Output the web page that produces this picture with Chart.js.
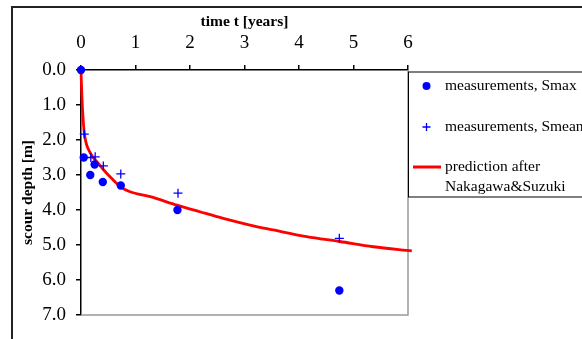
<!DOCTYPE html>
<html>
<head>
<meta charset="utf-8">
<script src="https://cdn.jsdelivr.net/npm/chart.js@4"></script>
<style>
  html, body { margin: 0; padding: 0; background: #fff; }
  #wrap { width: 582px; height: 339px; }
</style>
</head>
<body>
<div id="wrap"><canvas id="scourChart" width="582" height="339"></canvas></div>
<script>
// --- Data ---
const smaxTime = [0, 0.05, 0.17, 0.25, 0.40, 0.73, 1.77, 4.74];
const smaxDepth = [0.0, 2.5, 3.0, 2.7, 3.2, 3.3, 4.0, 6.3];

const smeanTime = [0.06, 0.18, 0.26, 0.41, 0.73, 1.78, 4.74];
const smeanDepth = [1.83, 2.5, 2.48, 2.74, 2.97, 3.52, 4.81];

const predTime = [0, 0.015, 0.04, 0.07, 0.17, 0.29, 0.47, 0.59, 0.72, 0.90, 1.27, 1.76, 2.18, 2.61, 3.10, 3.53, 4.14, 4.75, 5.36, 6.07];
const predDepth = [0, 0.7, 1.43, 1.9, 2.37, 2.62, 2.95, 3.14, 3.33, 3.48, 3.62, 3.86, 4.05, 4.24, 4.43, 4.57, 4.76, 4.90, 5.05, 5.17];

const xTicks = [0, 1, 2, 3, 4, 5, 6];
const yTicks = [0, 1, 2, 3, 4, 5, 6, 7];

const seriesLabels = ['measurements, Smax', 'measurements, Smean', 'prediction after\nNakagawa&Suzuki'];

const SERIF = "'Liberation Serif', 'Times New Roman', serif";
const BLUE = '#0000ff';
const RED = '#ff0000';

function toPoints(xs, ys) {
    return xs.map((x, i) => ({ x: x, y: ys[i] }));
}

// --- Frame, plot border and legend ---
const framePlugin = {
    id: 'frame',
    beforeDraw(chart) {
        const ctx = chart.ctx;
        ctx.save();
        ctx.fillStyle = '#fff';
        ctx.fillRect(0, 0, chart.width, chart.height);
        ctx.strokeStyle = '#222';
        ctx.lineWidth = 2;
        ctx.strokeRect(12, 7, chart.width + 20, chart.height + 20);
        ctx.restore();
    },
    beforeDatasetsDraw(chart) {
        const a = chart.chartArea;
        const ctx = chart.ctx;
        ctx.save();
        ctx.strokeStyle = '#999';
        ctx.lineWidth = 1.5;
        ctx.beginPath();
        ctx.moveTo(a.right, a.top);
        ctx.lineTo(a.right, a.bottom);
        ctx.lineTo(a.left, a.bottom);
        ctx.stroke();
        ctx.restore();
    },
    afterDraw(chart) {
        const ctx = chart.ctx;
        const boxX = 408.5, boxY = 72, boxH = 125;
        ctx.save();
        ctx.fillStyle = '#fff';
        ctx.fillRect(boxX, boxY, chart.width, boxH);
        ctx.strokeStyle = '#000';
        ctx.lineWidth = 1;
        ctx.strokeRect(boxX, boxY, chart.width, boxH);

        ctx.font = '15.5px ' + SERIF;
        ctx.fillStyle = '#000';
        ctx.textBaseline = 'middle';
        ctx.textAlign = 'left';
        const textX = 445;

        // Smax
        ctx.fillStyle = BLUE;
        ctx.beginPath();
        ctx.arc(426.5, 86, 4, 0, Math.PI * 2);
        ctx.fill();
        ctx.fillStyle = '#000';
        ctx.fillText(seriesLabels[0], textX, 86);

        // Smean
        ctx.strokeStyle = BLUE;
        ctx.lineWidth = 1.3;
        ctx.beginPath();
        ctx.moveTo(422.5, 127); ctx.lineTo(430.5, 127);
        ctx.moveTo(426.5, 123); ctx.lineTo(426.5, 131);
        ctx.stroke();
        ctx.fillText(seriesLabels[1], textX, 127);

        // Prediction
        ctx.strokeStyle = RED;
        ctx.lineWidth = 3;
        ctx.beginPath();
        ctx.moveTo(413, 167); ctx.lineTo(441, 167);
        ctx.stroke();
        const lines = seriesLabels[2].split('\n');
        ctx.fillText(lines[0], textX, 167);
        ctx.fillText(lines[1], textX, 187);
        ctx.restore();
    }
};

function initChart() {
    const ctx = document.getElementById('scourChart').getContext('2d');

    new Chart(ctx, {
        type: 'scatter',
        data: {
            datasets: [
                {
                    label: seriesLabels[0],
                    data: toPoints(smaxTime, smaxDepth),
                    pointStyle: 'circle',
                    pointRadius: 4.2,
                    backgroundColor: BLUE,
                    borderColor: BLUE,
                    borderWidth: 0,
                    clip: false
                },
                {
                    label: seriesLabels[1],
                    data: toPoints(smeanTime, smeanDepth),
                    pointStyle: 'cross',
                    pointRadius: 4.5,
                    borderColor: BLUE,
                    borderWidth: 1.3,
                    clip: false
                },
                {
                    label: seriesLabels[2],
                    type: 'line',
                    data: toPoints(predTime, predDepth),
                    borderColor: RED,
                    borderWidth: 2.8,
                    pointRadius: 0,
                    fill: false,
                    cubicInterpolationMode: 'monotone',
                    clip: false
                }
            ]
        },
        options: {
            responsive: false,
            animation: false,
            layout: { padding: { left: 0, right: 174, top: 0, bottom: 24 } },
            plugins: {
                legend: { display: false },
                tooltip: { enabled: false }
            },
            scales: {
                x: {
                    type: 'linear',
                    position: 'top',
                    min: 0,
                    max: 6,
                    afterBuildTicks: (scale) => { scale.ticks = xTicks.map(v => ({ value: v })); },
                    ticks: {
                        color: '#000',
                        font: { family: SERIF, size: 19 },
                        padding: 11,
                        maxRotation: 0
                    },
                    grid: { drawOnChartArea: false, drawTicks: true, tickLength: 5, color: '#000', lineWidth: 1.5 },
                    border: { display: true, color: '#000', width: 1.5 },
                    title: {
                        display: true,
                        text: 'time t [years]',
                        color: '#000',
                        font: { family: SERIF, size: 15.5, weight: 'bold' },
                        padding: { top: 13, bottom: 0 }
                    },
                    afterFit: (scale) => { scale.height = 70; }
                },
                y: {
                    type: 'linear',
                    reverse: true,
                    min: 0,
                    max: 7,
                    afterBuildTicks: (scale) => { scale.ticks = yTicks.map(v => ({ value: v })); },
                    ticks: {
                        color: '#000',
                        font: { family: SERIF, size: 19 },
                        padding: 10,
                        callback: (v) => Number(v).toFixed(1)
                    },
                    grid: { drawOnChartArea: false, drawTicks: true, tickLength: 5, color: '#000', lineWidth: 1.5 },
                    border: { display: true, color: '#000', width: 1.5 },
                    title: {
                        display: true,
                        text: 'scour depth [m]',
                        color: '#000',
                        font: { family: SERIF, size: 15.5, weight: 'bold' },
                        padding: { top: 19, bottom: 0 }
                    },
                    afterFit: (scale) => { scale.width = 81; }
                }
            }
        },
        plugins: [framePlugin]
    });
}

document.addEventListener('DOMContentLoaded', initChart);
</script>
</body>
</html>
